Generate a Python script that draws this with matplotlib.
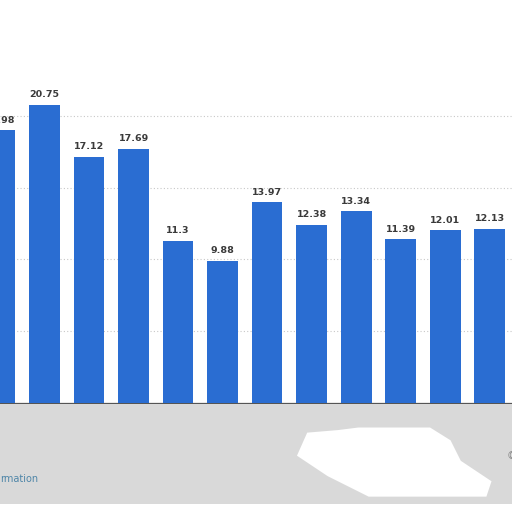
import matplotlib.pyplot as plt
from matplotlib.patches import Rectangle, Polygon

years = ['2007', '2008', '2009', '2010', '2011', '2012', '2013',
         '2014', '2015', '2016', '2017', '2018']
values = [18.98, 20.75, 17.12, 17.69, 11.3, 9.88, 13.97,
          12.38, 13.34, 11.39, 12.01, 12.13]

fig = plt.figure(figsize=(5.12, 5.12), dpi=100)
fig.patch.set_facecolor('white')

# grey footer area below the chart
fig.patches.append(Rectangle((0, 0.015), 1, 0.195, transform=fig.transFigure,
                             facecolor='#d9d9d9', edgecolor='none', zorder=0))
fig.patches.append(Polygon([(0.60, 0.155), (0.66, 0.16), (0.70, 0.165), (0.84, 0.165),
                            (0.88, 0.14), (0.90, 0.10), (0.96, 0.06), (0.95, 0.03),
                            (0.72, 0.03), (0.64, 0.07), (0.58, 0.11)],
                           closed=True, transform=fig.transFigure,
                           facecolor='white', edgecolor='none', zorder=0))

ax = fig.add_axes([0, 0.213, 1, 0.787])
ax.set_facecolor('white')
x = list(range(len(years)))
bars = ax.bar(x, values, width=0.69, color='#2a6dd2', zorder=3)
for b, v in zip(bars, values):
    ax.text(b.get_x() + b.get_width() / 2, v + 0.4, f'{v:g}', ha='center', va='bottom',
            fontsize=6.8, fontweight='bold', color='#3a3a3a', zorder=4)

ax.set_xlim(0.122, 11.5)
ax.set_ylim(0, 28.06)
ax.set_yticks([5, 10, 15, 20])
ax.yaxis.grid(True, linestyle=(0, (1, 2)), color='#c8c8c8', linewidth=0.8, zorder=0)
ax.set_yticklabels([])
ax.tick_params(axis='y', length=0)
ax.set_xticks(x)
ax.set_xticklabels(years, fontsize=7.2, color='#7a7a7a')
ax.tick_params(axis='x', length=0, pad=8)
for s in ['top', 'right', 'left']:
    ax.spines[s].set_visible(False)
ax.spines['bottom'].set_color('#555555')
ax.spines['bottom'].set_linewidth(0.9)

fig.text(0.0, 0.064, 'rmation', fontsize=7, color='#4f86a8', ha='left', va='center')
fig.text(0.99, 0.11, '©', fontsize=7, color='#888888', ha='left', va='center')

fig.savefig('out.png', dpi=100)
